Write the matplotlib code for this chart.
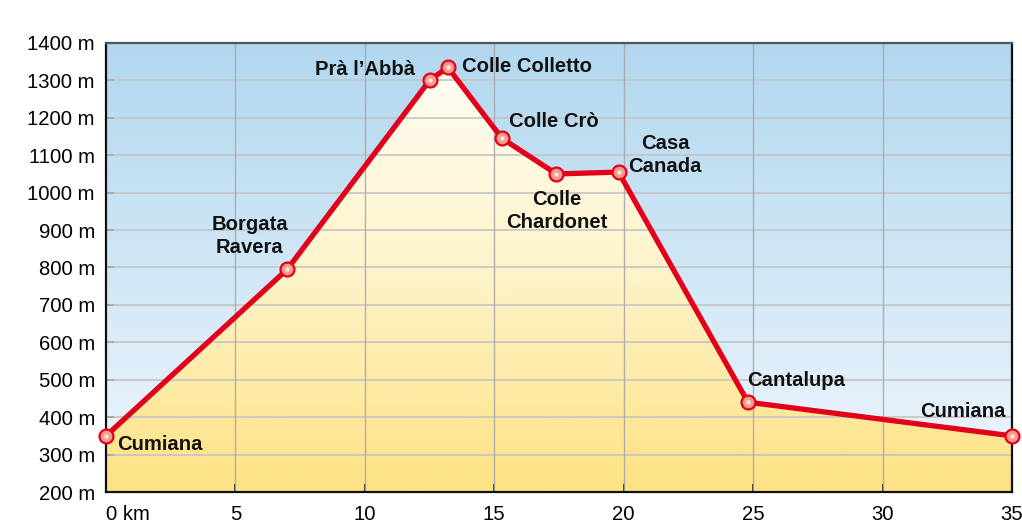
import numpy as np
import matplotlib
matplotlib.use("Agg")
import matplotlib.pyplot as plt
from matplotlib.colors import LinearSegmentedColormap

plt.rcParams['font.family'] = ['Liberation Sans', 'DejaVu Sans']

# Data
km = [0, 7, 12.5, 13.2, 15.3, 17.4, 19.8, 24.8, 35]
elev = [350, 795, 1300, 1335, 1145, 1050, 1055, 440, 350]
names = ["Cumiana", "Borgata\nRavera", "Prà l’Abbà", "Colle Colletto", "Colle Crò",
         "Colle\nChardonet", "Casa\nCanada", "Cantalupa", "Cumiana"]
label_x = [0.42, 5.56, 11.95, 13.75, 15.57, 17.42, 21.6, 24.76, 34.77]
label_y = [326, 884, 1328, 1336, 1191, 951, 1100, 497, 416]
label_ha = ["left", "center", "right", "left", "left", "center", "center", "left", "right"]
xticks = [0, 5, 10, 15, 20, 25, 30, 35]
xticklabels = ["0 km", "5", "10", "15", "20", "25", "30", "35"]
yticks = [200, 300, 400, 500, 600, 700, 800, 900, 1000, 1100, 1200, 1300, 1400]
yticklabels = [f"{v} m" for v in yticks]

fig = plt.figure(figsize=(10.22, 5.22), dpi=100)
ax = fig.add_axes([106/1022, 1-492/522, (1012-106)/1022, (492-43)/522])
xmin, xmax, ymin, ymax = 0, 35, 200, 1400
ax.set_xlim(xmin, xmax)
ax.set_ylim(ymin, ymax)

# blue background gradient
blue = LinearSegmentedColormap.from_list("b", ["#f0f7fd", "#b1d7ef"])
grad = np.linspace(0, 1, 256).reshape(-1, 1)
ax.imshow(grad, extent=[xmin, xmax, ymin, ymax], origin="lower", aspect="auto",
          cmap=blue, zorder=0, interpolation="bicubic")

# yellow fill under profile
poly = ax.fill_between(km, elev, ymin, facecolor="none", edgecolor="none", zorder=1)
yel = LinearSegmentedColormap.from_list("y", ["#fee283", "#fef3c8", "#fffdf4"])
ygrad = np.linspace(0, 1, 256).reshape(-1, 1)
im = ax.imshow(ygrad, extent=[xmin, xmax, ymin, max(elev)], origin="lower", aspect="auto",
               cmap=yel, zorder=1, interpolation="bicubic")
im.set_clip_path(poly.get_paths()[0], transform=ax.transData)
ax.set_xlim(xmin, xmax)
ax.set_ylim(ymin, ymax)

# grid
for v in yticks[1:-1]:
    ax.axhline(v, color="#c4c4c4", lw=1.4, alpha=0.85, zorder=2)
for v in xticks[1:-1]:
    ax.axvline(v, color="#a8a8a8", lw=1.0, alpha=0.9, zorder=2)

# profile line
ax.plot(km, elev, color="#e2001a", lw=3.8, solid_joinstyle="round", zorder=4)
ax.plot(km, elev, linestyle="none", marker="o", markersize=10, mfc="#f39a8c",
        mec="#e2001a", mew=1.6, zorder=9, clip_on=False)
ax.plot(km, elev, linestyle="none", marker="o", markersize=3.5, mfc="#fde3dc",
        mec="#f6b3a8", mew=0.6, zorder=10, clip_on=False)

# labels
for x, y, t, ha in zip(label_x, label_y, names, label_ha):
    ax.text(x, y, t, ha=ha, va="center", fontsize=14.6, fontweight="bold",
            color="#111111", linespacing=1.25, zorder=7)

# ticks
ax.set_xticks(xticks)
ax.set_xticklabels(xticklabels, fontsize=14.6)
ax.set_yticks(yticks)
ax.set_yticklabels(yticklabels, fontsize=14.6)
ax.get_xticklabels()[0].set_horizontalalignment("left")
ax.tick_params(axis="both", direction="in", length=6, width=1.3, color="#222222")
ax.tick_params(axis="x", pad=9)
ax.tick_params(axis="y", pad=8)

for s in ax.spines.values():
    s.set_color("#111111")
    s.set_linewidth(1.6)
    s.set_zorder(8)
ax.spines["top"].set_color("#555555")

fig.savefig("out.png", dpi=100)
